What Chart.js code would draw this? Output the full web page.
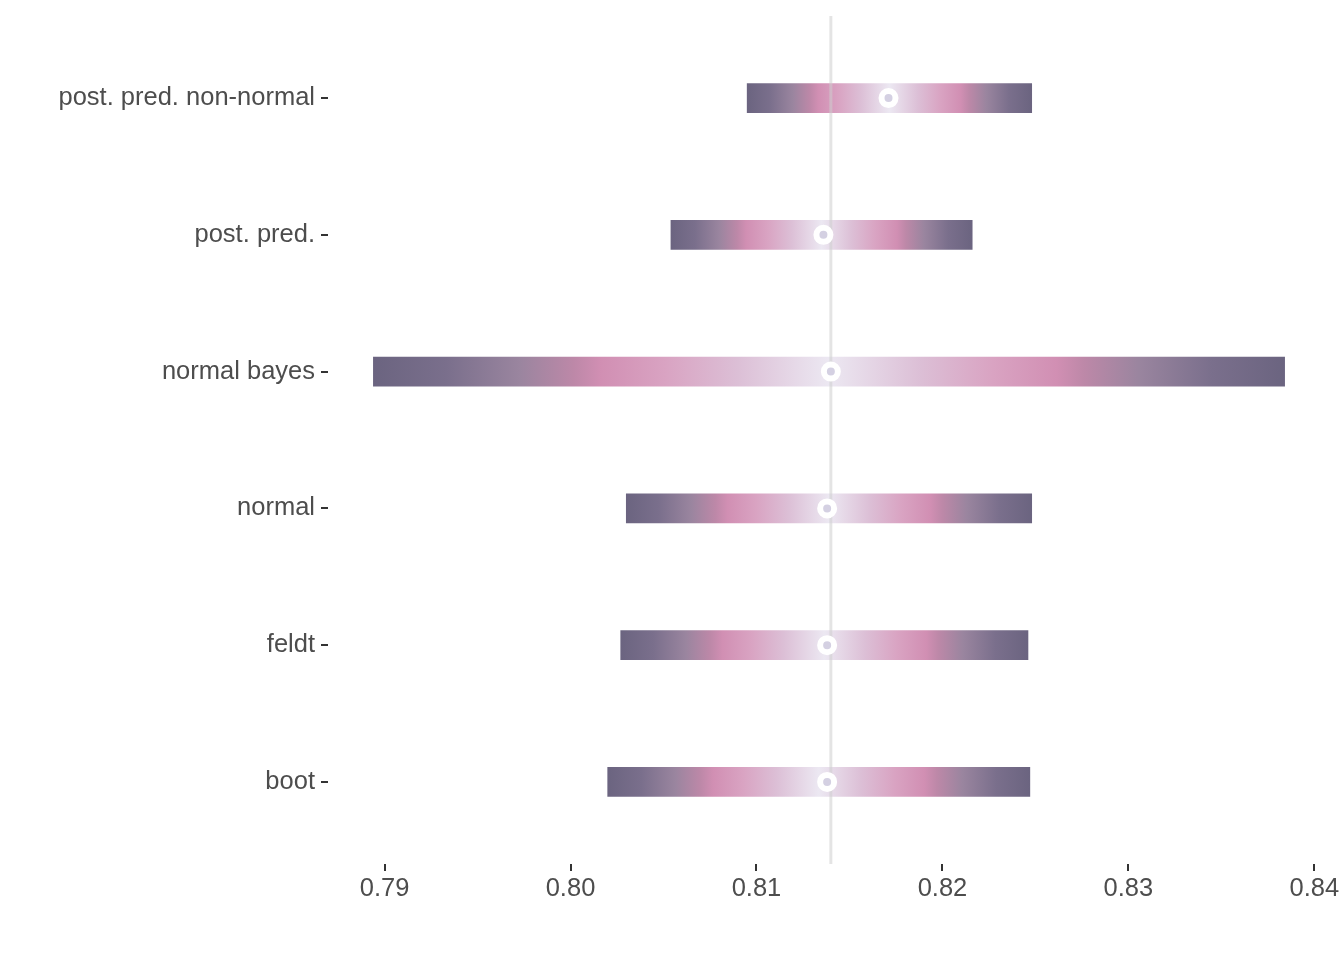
<!DOCTYPE html>
<html>
<head>
<meta charset="utf-8">
<script src="https://cdn.jsdelivr.net/npm/chart.js@4"></script>
<style>
  html, body { margin: 0; padding: 0; background: #ffffff; }
  #wrap { width: 1344px; height: 960px; }
</style>
</head>
<body>
<div id="wrap"><canvas id="c" width="1344" height="960"></canvas></div>
<script>
// ---- data (bottom to top) ----
const categories = ['boot', 'feldt', 'normal', 'normal bayes', 'post. pred.', 'post. pred. non-normal'];
const lowerValues = [0.8020, 0.8027, 0.8030, 0.7894, 0.8054, 0.8095];
const upperValues = [0.8247, 0.8246, 0.8248, 0.8384, 0.8216, 0.8248];
const pointValues = [0.8138, 0.8138, 0.8138, 0.8140, 0.8136, 0.8171];
const referenceValue = 0.8140;
const xTickValues = [0.79, 0.80, 0.81, 0.82, 0.83, 0.84];
const xTickLabels = ['0.79', '0.80', '0.81', '0.82', '0.83', '0.84'];

const FONT = { family: '"Liberation Sans", Arial, Helvetica, sans-serif', size: 25.5 };
const TEXT = '#4D4D4D';
const TICK = '#333333';

const gradStops = [
  [0.00, '#6b6480'], [0.08, '#7a6f8c'], [0.16, '#9a859f'], [0.22, '#bd88a8'],
  [0.25, '#d18fb3'], [0.32, '#d9a3c2'], [0.40, '#dcbfd6'], [0.50, '#ece8f2']
];

function barGradient(ctx) {
  const chart = ctx.chart;
  const xs = chart.scales && chart.scales.x;
  if (!xs || ctx.dataIndex === undefined || !chart.chartArea) return '#c8a0bd';
  const i = ctx.dataIndex;
  const x1 = xs.getPixelForValue(lowerValues[i]);
  const x2 = xs.getPixelForValue(upperValues[i]);
  const g = chart.ctx.createLinearGradient(x1, 0, x2, 0);
  gradStops.forEach(([f, c]) => g.addColorStop(f, c));
  for (let k = gradStops.length - 2; k >= 0; k--) g.addColorStop(1 - gradStops[k][0], gradStops[k][1]);
  return g;
}

const refLine = {
  id: 'refLine',
  afterDatasetDraw(chart, args) {
    if (args.meta.type !== 'bar') return;
    const { ctx, chartArea } = chart;
    const x = chart.scales.x.getPixelForValue(referenceValue);
    ctx.save();
    ctx.strokeStyle = 'rgba(205,205,205,0.55)';
    ctx.lineWidth = 3;
    ctx.beginPath();
    ctx.moveTo(x, chartArea.top);
    ctx.lineTo(x, chartArea.bottom);
    ctx.stroke();
    ctx.restore();
  }
};

new Chart(document.getElementById('c'), {
  data: {
    datasets: [
      {
        type: 'bar',
        indexAxis: 'y',
        order: 2,
        data: categories.map((c, i) => ({ x: [lowerValues[i], upperValues[i]], y: i })),
        backgroundColor: barGradient,
        borderWidth: 0,
        borderSkipped: false,
        barThickness: 29,
        xAxisID: 'x',
        yAxisID: 'y'
      },
      {
        type: 'scatter',
        order: 1,
        data: categories.map((c, i) => ({ x: pointValues[i], y: i })),
        pointRadius: 7,
        pointBorderWidth: 6,
        pointBorderColor: '#ffffff',
        pointBackgroundColor: '#d4d0e2',
        pointHoverRadius: 7,
        xAxisID: 'x',
        yAxisID: 'y'
      }
    ]
  },
  options: {
    responsive: false,
    animation: false,
    events: [],
    layout: { padding: { left: 0, top: 16, right: 14, bottom: 0 } },
    plugins: { legend: { display: false }, tooltip: { enabled: false } },
    scales: {
      x: {
        type: 'linear',
        position: 'bottom',
        offset: false,
        min: 0.78696,
        max: 0.84084,
        afterBuildTicks: (s) => { s.ticks = xTickValues.map(v => ({ value: v })); },
        afterFit: (s) => { s.height = 96; },
        ticks: {
          callback: (v, idx) => xTickLabels[idx],
          font: FONT, color: TEXT, padding: 3, maxRotation: 0, autoSkip: false
        },
        grid: { display: true, offset: false, drawOnChartArea: false, drawTicks: true, tickLength: 7, color: TICK, lineWidth: 2 },
        border: { display: false }
      },
      y: {
        type: 'linear',
        position: 'left',
        offset: false,
        min: -0.6,
        max: 5.6,
        afterBuildTicks: (s) => { s.ticks = categories.map((c, i) => ({ value: i })); },
        afterFit: (s) => { s.width = 328; s.paddingTop = 0; s.paddingBottom = 0; },
        ticks: {
          callback: (v) => categories[v],
          font: FONT, color: TEXT, padding: 6, autoSkip: false
        },
        grid: { display: true, offset: false, drawOnChartArea: false, drawTicks: true, tickLength: 7, color: TICK, lineWidth: 2 },
        border: { display: false }
      }
    }
  },
  plugins: [refLine]
});
</script>
</body>
</html>
